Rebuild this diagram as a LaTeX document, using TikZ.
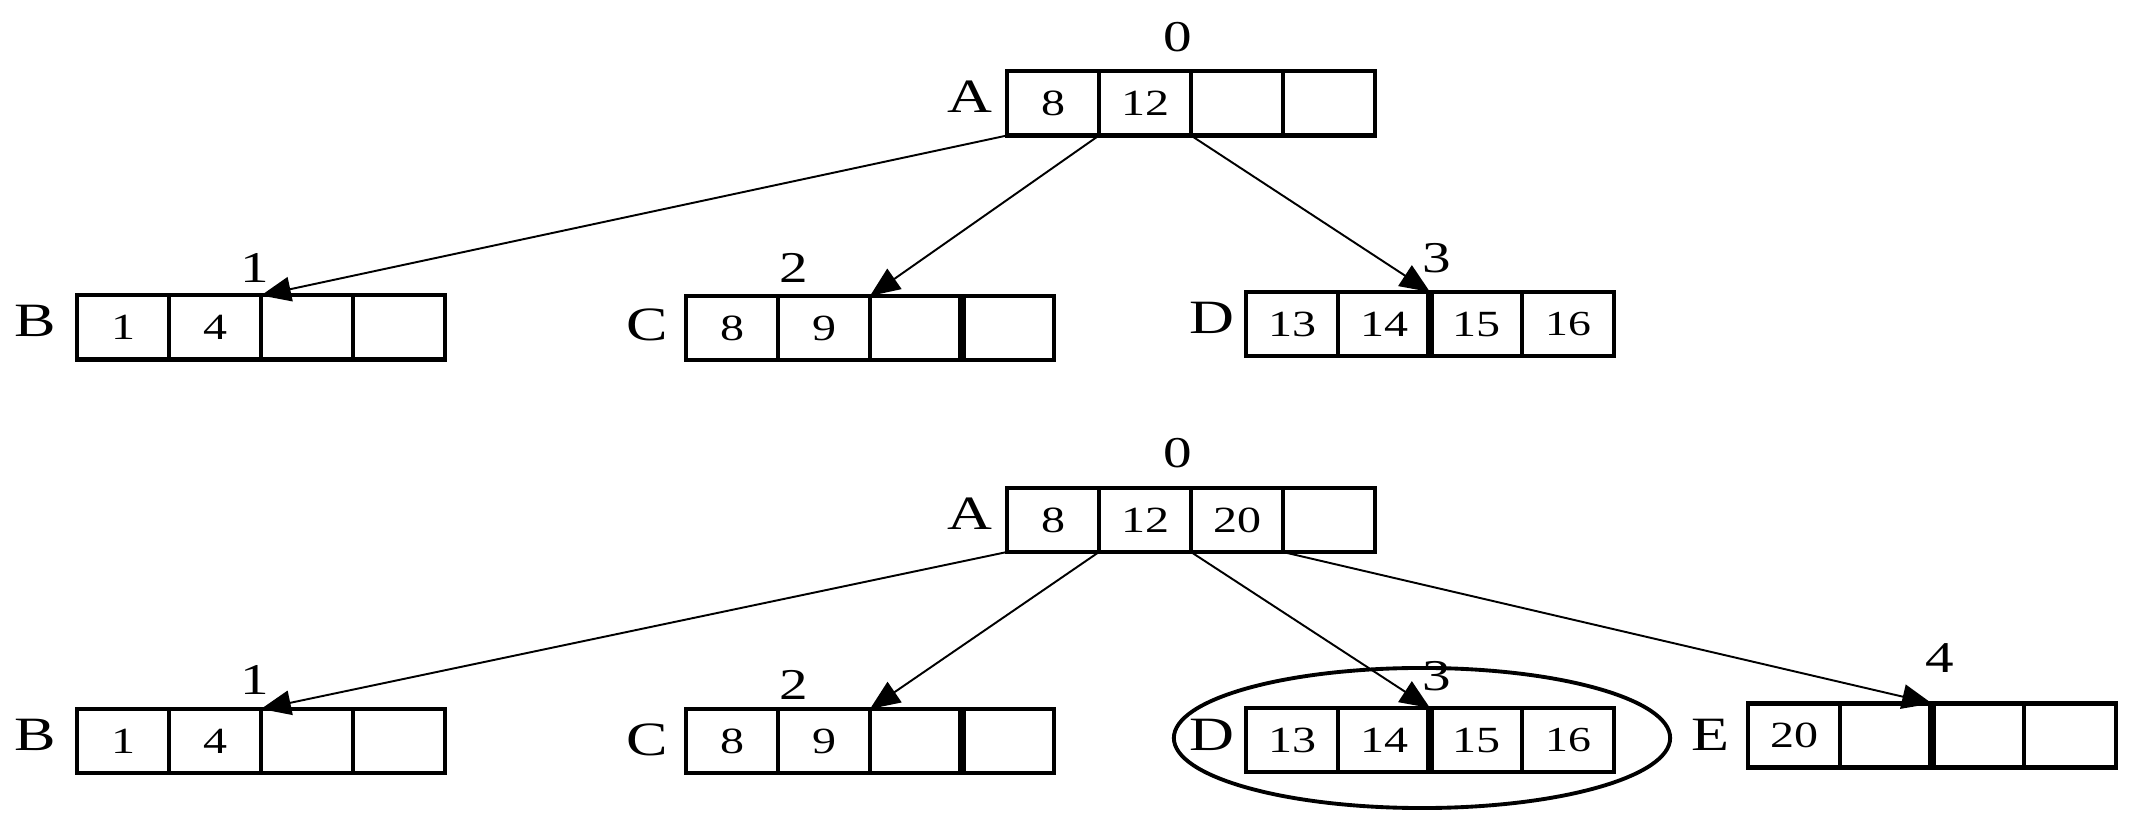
\documentclass[tikz,border=0pt]{standalone}
\usepackage{fontspec}
\setmainfont[FakeStretch=1.3]{Liberation Serif}
\usetikzlibrary{arrows.meta,shapes.geometric}
\newcommand\mkcells[7]{%
  \node[cell] (#1-1) at (#2+46,#3) {#4};
  \node[cell] (#1-2) at (#2+138,#3) {#5};
  \node[cell] (#1-3) at (#2+230,#3) {#6};
  \node[cell] (#1-4) at (#2+322,#3) {};
  \node at (#1-4) {#7};
}
\begin{document}
\begin{tikzpicture}[x=0.01cm,y=-0.01cm,
  cell/.style={draw, line width=1.15pt, minimum width=0.92cm, minimum height=0.64cm,
    inner sep=0pt, outer sep=0pt, font=\fontsize{10.5pt}{12pt}\selectfont},
  lab/.style={inner sep=0pt, font=\fontsize{13.6pt}{16pt}\selectfont},
  idx/.style={inner sep=0pt, font=\fontsize{12.5pt}{15pt}\selectfont},
  ptr/.style={line width=0.55pt, -{Triangle[length=8.5pt,width=7pt]}},
  thickdiv/.style={line width=2pt}]
\useasboundingbox (0,0) rectangle (2133,828);
% ---------- top tree ----------
\mkcells{tA}{1007}{103.5}{8}{12}{}{}
\mkcells{tB}{77}{327.5}{1}{4}{}{}
\mkcells{tC}{686}{328}{8}{9}{}{}
\mkcells{tD}{1246}{324}{13}{14}{15}{16}
\draw[thickdiv] (tC-4.north west) -- (tC-4.south west);
\draw[thickdiv] (tD-3.north west) -- (tD-3.south west);
\node[lab] (tAl) at (970,97) {A};
\node[lab] (tBl) at (35,321) {B};
\node[lab] (tCl) at (647,325) {C};
\node[lab] (tDl) at (1212,318) {D};
\node[idx] (t0) at (1178,37) {0};
\node[idx] (t1) at (255,268) {1};
\node[idx] (t2) at (794,268) {2};
\node[idx] (t3) at (1437,258) {3};
\draw[ptr] (tA-1.south west) -- (tB-3.north west);
\draw[ptr] (tA-2.south west) -- (tC-3.north west);
\draw[ptr] (tA-3.south west) -- (tD-3.north west);
% ---------- bottom tree ----------
\mkcells{bA}{1007}{520}{8}{12}{20}{}
\mkcells{bB}{77}{741}{1}{4}{}{}
\mkcells{bC}{686}{741}{8}{9}{}{}
\mkcells{bD}{1246}{740}{13}{14}{15}{16}
\mkcells{bE}{1748}{735.5}{20}{}{}{}
\draw[thickdiv] (bC-4.north west) -- (bC-4.south west);
\draw[thickdiv] (bD-3.north west) -- (bD-3.south west);
\draw[thickdiv] (bE-3.north west) -- (bE-3.south west);
\node[lab] (bAl) at (970,514) {A};
\node[lab] (bBl) at (35,735) {B};
\node[lab] (bCl) at (647,740) {C};
\node[lab] (bDl) at (1212,735) {D};
\node[lab] (bEl) at (1710,735) {E};
\node[idx] (b0) at (1178,453) {0};
\node[idx] (b1) at (255,680) {1};
\node[idx] (b2) at (794,685) {2};
\node[idx] (b3) at (1437,676) {3};
\node[idx] (b4) at (1940,658) {4};
\node[draw, ellipse, line width=1.1pt, minimum width=4.96cm, minimum height=1.4cm,
  inner sep=0pt] (ell) at (1422,738) {};
\draw[ptr] (bA-1.south west) -- (bB-3.north west);
\draw[ptr] (bA-2.south west) -- (bC-3.north west);
\draw[ptr] (bA-3.south west) -- (bD-3.north west);
\draw[ptr] (bA-4.south west) -- (bE-3.north west);
\end{tikzpicture}
\end{document}
